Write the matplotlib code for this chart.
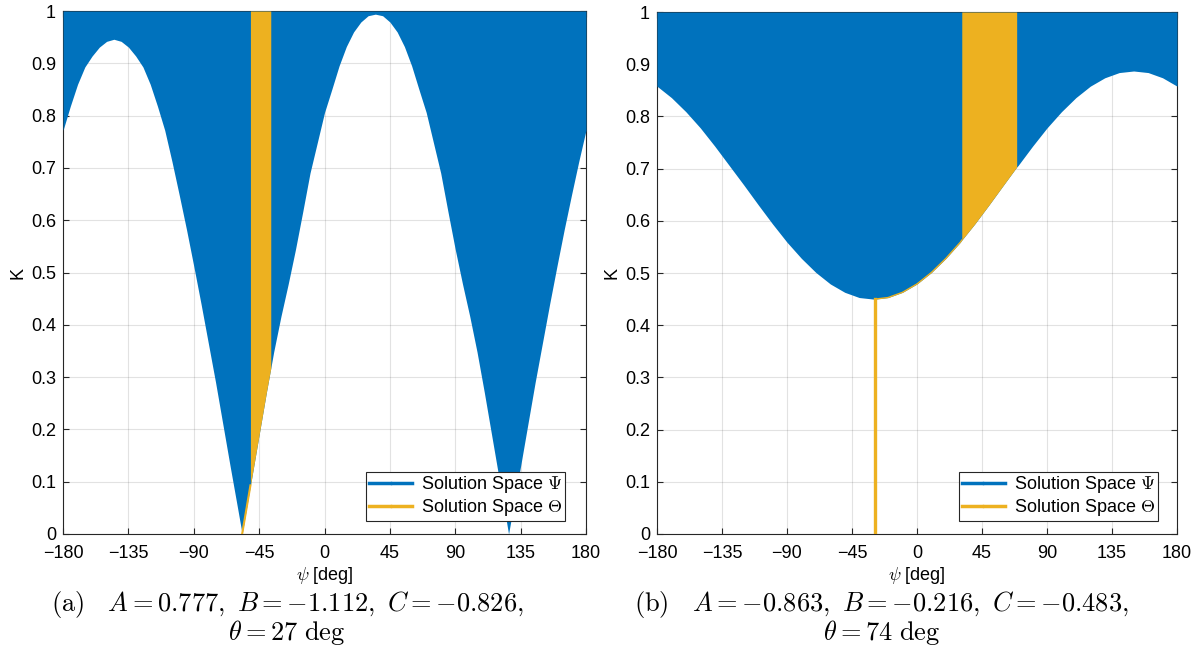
import numpy as np
import matplotlib
matplotlib.use('Agg')
import matplotlib.pyplot as plt
from matplotlib.lines import Line2D
from matplotlib.ticker import FormatStrFormatter

plt.rcParams['font.family'] = ['Liberation Sans', 'DejaVu Sans']
plt.rcParams['mathtext.fontset'] = 'cm'

# panel (a): lower bound of solution space Psi
psi_a = [-180, -175, -170, -165, -160, -155, -150, -145, -140, -135, -130, -125, -120,
         -115, -110, -105, -100, -95, -90, -85, -80, -75, -70, -65, -60, -56.7,
         -55, -51, -50, -45, -40, -37, -35, -30, -25, -20, -15, -10, -5, 0, 5, 10,
         15, 20, 25, 30, 35, 40, 45, 50, 55, 60, 65, 70, 75, 80, 85, 90, 95, 100,
         105, 110, 115, 120, 125, 126.7, 130, 135, 140, 145, 150, 155, 160, 165,
         170, 175, 180]
k_a = [0.772, 0.818, 0.860, 0.893, 0.914, 0.931, 0.942, 0.946, 0.942, 0.931, 0.914,
       0.893, 0.860, 0.818, 0.772, 0.712, 0.648, 0.582, 0.512, 0.440, 0.365, 0.290,
       0.210, 0.130, 0.052, 0.0,
       0.028, 0.093, 0.109, 0.190, 0.271, 0.317, 0.348, 0.416, 0.478, 0.544, 0.616,
       0.690, 0.748, 0.806, 0.850, 0.895, 0.932, 0.960, 0.979, 0.991, 0.994, 0.991,
       0.979, 0.960, 0.932, 0.895, 0.850, 0.806, 0.748, 0.690, 0.616, 0.544, 0.478,
       0.416, 0.348, 0.271, 0.190, 0.109, 0.028, 0.0, 0.052, 0.130, 0.210, 0.290,
       0.365, 0.440, 0.512, 0.582, 0.648, 0.712, 0.772]
theta_band_a = [-51, -37]
theta_tail_a = ([-56.7, -51], [0.0, 0.093])

# panel (b)
psi_b = [-180, -170, -160, -150, -140, -130, -120, -110, -100, -90, -80, -70, -60,
         -50, -40, -30, -29, -20, -10, 0, 10, 20, 30, 31, 40, 50, 60, 69, 70, 80, 90,
         100, 110, 120, 130, 140, 150, 160, 170, 180]
k_b = [0.858, 0.836, 0.809, 0.778, 0.743, 0.706, 0.669, 0.631, 0.594, 0.559, 0.528,
       0.501, 0.479, 0.463, 0.453, 0.450, 0.450, 0.453, 0.463, 0.479, 0.501, 0.528,
       0.559, 0.563, 0.594, 0.631, 0.669, 0.703, 0.706, 0.743, 0.778, 0.809, 0.836,
       0.858, 0.874, 0.884, 0.887, 0.884, 0.874, 0.858]
theta_band_b = [31, 69]
theta_stem_b = ([-29, -29], [0.0, 0.450])
theta_edge_b = [-29, 31]

captions = [
    (r'$\mathrm{(a)}\quad A = 0.777,\ B = -1.112,\ C = -0.826,$', r'$\theta = 27\ \mathrm{deg}$'),
    (r'$\mathrm{(b)}\quad A = -0.863,\ B = -0.216,\ C = -0.483,$', r'$\theta = 74\ \mathrm{deg}$'),
]

xticks = [-180, -135, -90, -45, 0, 45, 90, 135, 180]
yticks = np.arange(0, 1.01, 0.1)

blue = '#0072BD'
yellow = '#EDB120'
dark = '#262626'

fig = plt.figure(figsize=(12.03, 6.64), dpi=100)
ax1 = fig.add_axes([0.0524, 0.1958, 0.4347, 0.7876])
ax2 = fig.add_axes([0.5461, 0.1958, 0.4323, 0.7861])


def style(ax, legx):
    ax.set_xlim(-180, 180)
    ax.set_ylim(0, 1)
    ax.set_xticks(xticks)
    ax.set_yticks(yticks)
    ax.yaxis.set_major_formatter(FormatStrFormatter('%g'))
    ax.set_axisbelow(True)
    ax.grid(True, color=dark, alpha=0.13, lw=0.8)
    ax.tick_params(direction='in', length=4, width=0.8, colors=dark,
                   labelsize=13, top=True, right=True, labelcolor='black')
    ax.tick_params(axis='x', pad=8)
    ax.tick_params(axis='y', pad=5)
    for s in ax.spines.values():
        s.set_color(dark)
        s.set_linewidth(0.8)
        s.set_zorder(0.6)
    ax.set_xlabel(r'$\psi$ [deg]', fontsize=13, labelpad=2)
    ax.set_ylabel('K', fontsize=13, labelpad=3)
    handles = [Line2D([], [], color=blue, lw=2.5, marker='.', ms=3),
               Line2D([], [], color=yellow, lw=2.5, marker='.', ms=3)]
    leg = ax.legend(handles, [r'Solution Space $\Psi$', r'Solution Space $\Theta$'],
                    loc='lower right', bbox_to_anchor=(legx, 0.025), borderaxespad=0,
                    fontsize=13, fancybox=False, edgecolor=dark, framealpha=1,
                    handlelength=2.4, handletextpad=0.5, labelspacing=0.1,
                    borderpad=0.15)
    leg.get_frame().set_linewidth(0.8)


pa = np.array(psi_a)
ax1.fill_between(pa, k_a, 1, color=blue, lw=0, zorder=2)
ax1.fill_between(pa, k_a, 1, where=(pa >= theta_band_a[0]) & (pa <= theta_band_a[1]),
                 color=yellow, lw=0, zorder=3)
ax1.plot(theta_tail_a[0], theta_tail_a[1], color=yellow, lw=1.5, zorder=3)
style(ax1, 0.96)

pb = np.array(psi_b)
ax2.fill_between(pb, k_b, 1, color=blue, lw=0, zorder=2)
ax2.fill_between(pb, k_b, 1, where=(pb >= theta_band_b[0]) & (pb <= theta_band_b[1]),
                 color=yellow, lw=0, zorder=3)
edge = (pb >= theta_edge_b[0]) & (pb <= theta_edge_b[1])
ax2.plot(pb[edge], np.array(k_b)[edge], color=yellow, lw=1.0, zorder=3)
ax2.plot(theta_stem_b[0], theta_stem_b[1], color=yellow, lw=2.4, zorder=3)
style(ax2, 0.963)

for xc, (l1, l2) in zip([0.2386, 0.733], captions):
    fig.text(xc, 0.09, l1, ha='center', va='center', fontsize=19)
    fig.text(xc, 0.047, l2, ha='center', va='center', fontsize=19)

fig.savefig('out.png', dpi=100)
